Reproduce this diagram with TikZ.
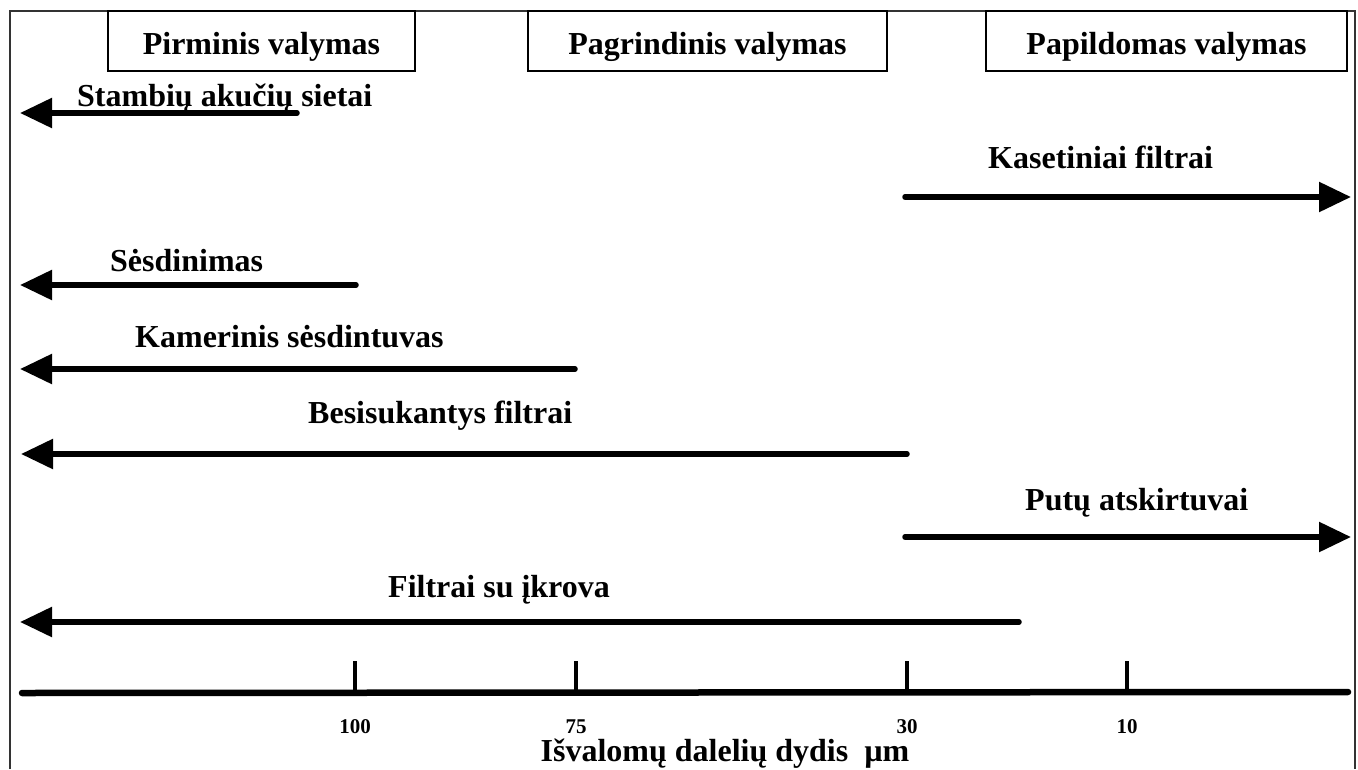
\documentclass[tikz,border=0pt]{standalone}
\usepackage{fontspec}
\setmainfont{Liberation Serif}
\usetikzlibrary{arrows.meta}
\begin{document}
\begin{tikzpicture}[x=1pt,y=-1pt,
  bigfont/.style={font=\fontsize{32}{36}\selectfont\bfseries},
  framepath/.style={line width=1.5pt, draw=black!80},
  headbox/.style={draw, line width=1.5pt, bigfont, inner sep=0pt,
    minimum height=60pt, text height=30pt, text depth=4pt},
  lbl/.style={bigfont, anchor=base west, inner sep=0pt},
  rangearrow/.style={line width=5.5pt, line cap=round,
    -{Triangle[length=32pt,width=29pt]}},
  axisline/.style={line width=6.5pt, line cap=round},
  tickmark/.style={line width=4pt},
  ticklbl/.style={font=\fontsize{21}{24}\selectfont\bfseries, anchor=base, inner sep=0pt},
]
\useasboundingbox (0,0) rectangle (1358,769);

% outer frame (open at the bottom)
\draw[framepath] (10,769) -- (10,11) -- (1355,11) -- (1355,769);

% stage headers
\node[headbox, minimum width=307pt] (h1) at (261.5,41) {Pirminis valymas};
\node[headbox, minimum width=359pt] (h2) at (707.5,41) {Pagrindinis valymas};
\node[headbox, minimum width=361pt] (h3) at (1166.5,41) {Papildomas valymas};

% method labels
\node[lbl] (l1) at (77,106)   {Stambių akučių sietai};
\node[lbl] (l2) at (988,168)  {Kasetiniai filtrai};
\node[lbl] (l3) at (110,271)  {Sėsdinimas};
\node[lbl] (l4) at (135,347)  {Kamerinis sėsdintuvas};
\node[lbl] (l5) at (308,423)  {Besisukantys filtrai};
\node[lbl] (l6) at (1025,510) {Putų atskirtuvai};
\node[lbl] (l7) at (388,597)  {Filtrai su įkrova};

% arrow end points
\coordinate (a1s) at (297,113);  \coordinate (a1e) at (20,113);
\coordinate (a2s) at (905,197);  \coordinate (a2e) at (1351,197);
\coordinate (a3s) at (356,285);  \coordinate (a3e) at (20,285);
\coordinate (a4s) at (575,369);  \coordinate (a4e) at (20,369);
\coordinate (a5s) at (907,454);  \coordinate (a5e) at (21,454);
\coordinate (a6s) at (905,537);  \coordinate (a6e) at (1351,537);
\coordinate (a7s) at (1019,622); \coordinate (a7e) at (20,622);

\draw[rangearrow] (a1s) -- (a1e);
\draw[rangearrow] (a2s) -- (a2e);
\draw[rangearrow] (a3s) -- (a3e);
\draw[rangearrow] (a4s) -- (a4e);
\draw[rangearrow] (a5s) -- (a5e);
\draw[rangearrow] (a6s) -- (a6e);
\draw[rangearrow] (a7s) -- (a7e);

% particle size axis
\coordinate (ax0) at (22,693);
\coordinate (ax1) at (1348,692);
\draw[axisline] (ax0) -- (ax1);

\foreach \x/\v/\n in {355/100/t1, 576/75/t2, 907/30/t3, 1127/10/t4}{
  \coordinate (\n top) at (\x,661);
  \coordinate (\n bot) at (\x,692);
  \draw[tickmark] (\n top) -- (\n bot);
  \node[ticklbl] (\n lbl) at (\x,733) {\v};
}

\node[bigfont, anchor=base, inner sep=0pt] (title) at (725,761) {Išvalomų dalelių dydis~~µm};
\end{tikzpicture}
\end{document}
